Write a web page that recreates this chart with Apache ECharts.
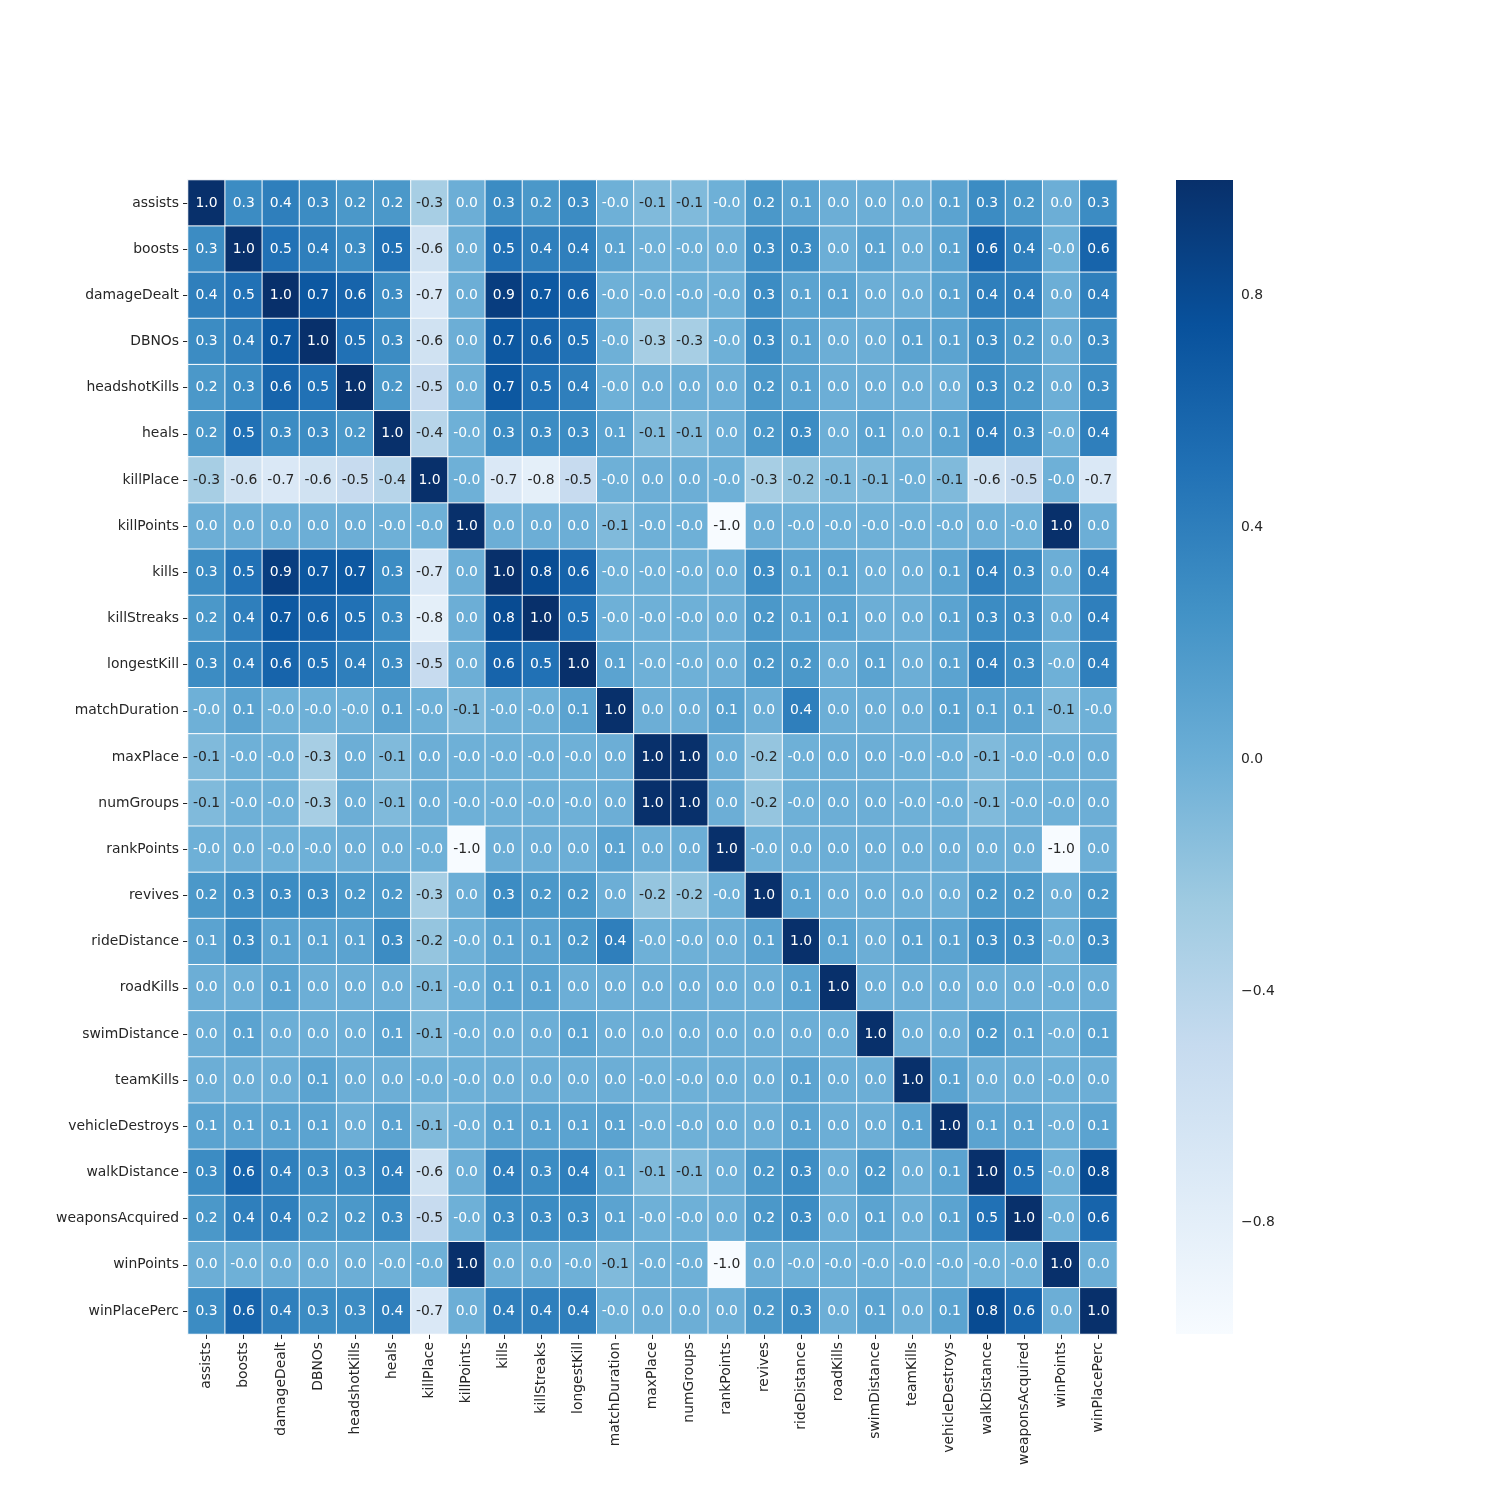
<!DOCTYPE html>
<html>
<head>
<meta charset="utf-8">
<script src="https://cdn.jsdelivr.net/npm/echarts@6/dist/echarts.min.js"></script>
<style>html,body{margin:0;padding:0;background:#fff}#c{width:1500px;height:1500px}</style>
</head>
<body>
<div id="c"></div>
<script>
// Category labels (same for rows and columns)
const labels = ["assists","boosts","damageDealt","DBNOs","headshotKills","heals","killPlace","killPoints","kills","killStreaks","longestKill","matchDuration","maxPlace","numGroups","rankPoints","revives","rideDistance","roadKills","swimDistance","teamKills","vehicleDestroys","walkDistance","weaponsAcquired","winPoints","winPlacePerc"];

// Correlation rows (-0.01 marks a displayed "-0.0")
const r_assists         = [1.0,0.3,0.4,0.3,0.2,0.2,-0.3,0.0,0.3,0.2,0.3,-0.01,-0.1,-0.1,-0.01,0.2,0.1,0.0,0.0,0.0,0.1,0.3,0.2,0.0,0.3];
const r_boosts          = [0.3,1.0,0.5,0.4,0.3,0.5,-0.6,0.0,0.5,0.4,0.4,0.1,-0.01,-0.01,0.0,0.3,0.3,0.0,0.1,0.0,0.1,0.6,0.4,-0.01,0.6];
const r_damageDealt     = [0.4,0.5,1.0,0.7,0.6,0.3,-0.7,0.0,0.9,0.7,0.6,-0.01,-0.01,-0.01,-0.01,0.3,0.1,0.1,0.0,0.0,0.1,0.4,0.4,0.0,0.4];
const r_DBNOs           = [0.3,0.4,0.7,1.0,0.5,0.3,-0.6,0.0,0.7,0.6,0.5,-0.01,-0.3,-0.3,-0.01,0.3,0.1,0.0,0.0,0.1,0.1,0.3,0.2,0.0,0.3];
const r_headshotKills   = [0.2,0.3,0.6,0.5,1.0,0.2,-0.5,0.0,0.7,0.5,0.4,-0.01,0.0,0.0,0.0,0.2,0.1,0.0,0.0,0.0,0.0,0.3,0.2,0.0,0.3];
const r_heals           = [0.2,0.5,0.3,0.3,0.2,1.0,-0.4,-0.01,0.3,0.3,0.3,0.1,-0.1,-0.1,0.0,0.2,0.3,0.0,0.1,0.0,0.1,0.4,0.3,-0.01,0.4];
const r_killPlace       = [-0.3,-0.6,-0.7,-0.6,-0.5,-0.4,1.0,-0.01,-0.7,-0.8,-0.5,-0.01,0.0,0.0,-0.01,-0.3,-0.2,-0.1,-0.1,-0.01,-0.1,-0.6,-0.5,-0.01,-0.7];
const r_killPoints      = [0.0,0.0,0.0,0.0,0.0,-0.01,-0.01,1.0,0.0,0.0,0.0,-0.1,-0.01,-0.01,-0.99,0.0,-0.01,-0.01,-0.01,-0.01,-0.01,0.0,-0.01,1.0,0.0];
const r_kills           = [0.3,0.5,0.9,0.7,0.7,0.3,-0.7,0.0,1.0,0.8,0.6,-0.01,-0.01,-0.01,0.0,0.3,0.1,0.1,0.0,0.0,0.1,0.4,0.3,0.0,0.4];
const r_killStreaks     = [0.2,0.4,0.7,0.6,0.5,0.3,-0.8,0.0,0.8,1.0,0.5,-0.01,-0.01,-0.01,0.0,0.2,0.1,0.1,0.0,0.0,0.1,0.3,0.3,0.0,0.4];
const r_longestKill     = [0.3,0.4,0.6,0.5,0.4,0.3,-0.5,0.0,0.6,0.5,1.0,0.1,-0.01,-0.01,0.0,0.2,0.2,0.0,0.1,0.0,0.1,0.4,0.3,-0.01,0.4];
const r_matchDuration   = [-0.01,0.1,-0.01,-0.01,-0.01,0.1,-0.01,-0.1,-0.01,-0.01,0.1,1.0,0.0,0.0,0.1,0.0,0.4,0.0,0.0,0.0,0.1,0.1,0.1,-0.1,-0.01];
const r_maxPlace        = [-0.1,-0.01,-0.01,-0.3,0.0,-0.1,0.0,-0.01,-0.01,-0.01,-0.01,0.0,1.0,1.0,0.0,-0.2,-0.01,0.0,0.0,-0.01,-0.01,-0.1,-0.01,-0.01,0.0];
const r_numGroups       = [-0.1,-0.01,-0.01,-0.3,0.0,-0.1,0.0,-0.01,-0.01,-0.01,-0.01,0.0,1.0,1.0,0.0,-0.2,-0.01,0.0,0.0,-0.01,-0.01,-0.1,-0.01,-0.01,0.0];
const r_rankPoints      = [-0.01,0.0,-0.01,-0.01,0.0,0.0,-0.01,-0.99,0.0,0.0,0.0,0.1,0.0,0.0,1.0,-0.01,0.0,0.0,0.0,0.0,0.0,0.0,0.0,-0.99,0.0];
const r_revives         = [0.2,0.3,0.3,0.3,0.2,0.2,-0.3,0.0,0.3,0.2,0.2,0.0,-0.2,-0.2,-0.01,1.0,0.1,0.0,0.0,0.0,0.0,0.2,0.2,0.0,0.2];
const r_rideDistance    = [0.1,0.3,0.1,0.1,0.1,0.3,-0.2,-0.01,0.1,0.1,0.2,0.4,-0.01,-0.01,0.0,0.1,1.0,0.1,0.0,0.1,0.1,0.3,0.3,-0.01,0.3];
const r_roadKills       = [0.0,0.0,0.1,0.0,0.0,0.0,-0.1,-0.01,0.1,0.1,0.0,0.0,0.0,0.0,0.0,0.0,0.1,1.0,0.0,0.0,0.0,0.0,0.0,-0.01,0.0];
const r_swimDistance    = [0.0,0.1,0.0,0.0,0.0,0.1,-0.1,-0.01,0.0,0.0,0.1,0.0,0.0,0.0,0.0,0.0,0.0,0.0,1.0,0.0,0.0,0.2,0.1,-0.01,0.1];
const r_teamKills       = [0.0,0.0,0.0,0.1,0.0,0.0,-0.01,-0.01,0.0,0.0,0.0,0.0,-0.01,-0.01,0.0,0.0,0.1,0.0,0.0,1.0,0.1,0.0,0.0,-0.01,0.0];
const r_vehicleDestroys = [0.1,0.1,0.1,0.1,0.0,0.1,-0.1,-0.01,0.1,0.1,0.1,0.1,-0.01,-0.01,0.0,0.0,0.1,0.0,0.0,0.1,1.0,0.1,0.1,-0.01,0.1];
const r_walkDistance    = [0.3,0.6,0.4,0.3,0.3,0.4,-0.6,0.0,0.4,0.3,0.4,0.1,-0.1,-0.1,0.0,0.2,0.3,0.0,0.2,0.0,0.1,1.0,0.5,-0.01,0.8];
const r_weaponsAcquired = [0.2,0.4,0.4,0.2,0.2,0.3,-0.5,-0.01,0.3,0.3,0.3,0.1,-0.01,-0.01,0.0,0.2,0.3,0.0,0.1,0.0,0.1,0.5,1.0,-0.01,0.6];
const r_winPoints       = [0.0,-0.01,0.0,0.0,0.0,-0.01,-0.01,1.0,0.0,0.0,-0.01,-0.1,-0.01,-0.01,-0.99,0.0,-0.01,-0.01,-0.01,-0.01,-0.01,-0.01,-0.01,1.0,0.0];
const r_winPlacePerc    = [0.3,0.6,0.4,0.3,0.3,0.4,-0.7,0.0,0.4,0.4,0.4,-0.01,0.0,0.0,0.0,0.2,0.3,0.0,0.1,0.0,0.1,0.8,0.6,0.0,1.0];

const matrix = [r_assists,r_boosts,r_damageDealt,r_DBNOs,r_headshotKills,r_heals,r_killPlace,r_killPoints,r_kills,r_killStreaks,r_longestKill,r_matchDuration,r_maxPlace,r_numGroups,r_rankPoints,r_revives,r_rideDistance,r_roadKills,r_swimDistance,r_teamKills,r_vehicleDestroys,r_walkDistance,r_weaponsAcquired,r_winPoints,r_winPlacePerc];

// Colour scale range (data min / max) and colorbar ticks
const vmin = -0.992, vmax = 1.0;
const cbarTicks = [-0.8,-0.4,0.0,0.4,0.8];

// matplotlib "Blues" colormap stops
const blues = ["#f7fbff","#deebf7","#c6dbef","#9ecae1","#6baed6","#4292c6","#2171b5","#08519c","#08306b"];

function hexToRgb(h){return [parseInt(h.substr(1,2),16),parseInt(h.substr(3,2),16),parseInt(h.substr(5,2),16)];}
function cmap(v){
  let t=(v-vmin)/(vmax-vmin); t=Math.max(0,Math.min(1,t));
  const p=t*(blues.length-1); const i=Math.min(Math.floor(p),blues.length-2); const f=p-i;
  const a=hexToRgb(blues[i]), b=hexToRgb(blues[i+1]);
  return [0,1,2].map(k=>a[k]+(b[k]-a[k])*f);
}
function lum(rgb){
  const c=rgb.map(x=>{x/=255;return x<=0.03928?x/12.92:Math.pow((x+0.055)/1.055,2.4);});
  return 0.2126*c[0]+0.7152*c[1]+0.0722*c[2];
}

const data=[];
matrix.forEach((row,yi)=>row.forEach((v,xi)=>{
  data.push({value:[xi,yi,v],label:{color:lum(cmap(v))>0.408?'#262626':'#ffffff'}});
}));

const FONT='DejaVu Sans';
const chart=echarts.init(document.getElementById('c'),null,{renderer:'canvas'});
chart.setOption({
  backgroundColor:'#ffffff',
  animation:false,
  grid:[
    {left:188,top:180,width:929,height:1154,outerBoundsMode:'none',containLabel:false},
    {left:1176,top:180,width:57,height:1154,outerBoundsMode:'none',containLabel:false}
  ],
  xAxis:[
    {type:'category',data:labels,gridIndex:0,position:'bottom',
     axisLine:{show:false},splitLine:{show:false},splitArea:{show:false},
     axisTick:{show:true,alignWithLabel:true,length:5,lineStyle:{color:'#262626',width:1}},
     axisLabel:{rotate:90,margin:8,fontFamily:FONT,fontSize:13.9,color:'#262626',interval:0}},
    {type:'value',gridIndex:1,show:false,min:0,max:1}
  ],
  yAxis:[
    {type:'category',data:labels,gridIndex:0,inverse:true,
     axisLine:{show:false},splitLine:{show:false},splitArea:{show:false},
     axisTick:{show:true,alignWithLabel:true,length:5,lineStyle:{color:'#262626',width:1}},
     axisLabel:{margin:9,fontFamily:FONT,fontSize:13.9,color:'#262626',interval:0}},
    {type:'value',gridIndex:1,min:vmin,max:vmax,position:'right',
     axisLine:{show:false},splitLine:{show:false},
     axisTick:{show:true,customValues:cbarTicks,length:5,lineStyle:{color:'#262626',width:1}},
     axisLabel:{customValues:cbarTicks,margin:8,fontFamily:FONT,fontSize:13.9,color:'#262626',
       formatter:v=>(Math.abs(v)<1e-9?'0.0':v.toFixed(1).replace('-','\u2212'))}}
  ],
  visualMap:{
    type:'continuous',show:false,seriesIndex:0,min:vmin,max:vmax,
    inRange:{color:blues}
  },
  series:[
    {type:'heatmap',xAxisIndex:0,yAxisIndex:0,data:data,
     itemStyle:{borderColor:'#ffffff',borderWidth:1},
     label:{show:true,fontFamily:FONT,fontSize:13.9,formatter:p=>p.value[2].toFixed(1)},
     emphasis:{disabled:true}},
    {type:'custom',xAxisIndex:1,yAxisIndex:1,silent:true,
     data:[[0,vmin,1,vmax]],
     renderItem:function(params,api){
       const p0=api.coord([api.value(0),api.value(1)]);
       const p1=api.coord([api.value(2),api.value(3)]);
       const stops=blues.map((c,i)=>({offset:1-i/(blues.length-1),color:c}));
       return {type:'rect',
         shape:{x:Math.min(p0[0],p1[0]),y:Math.min(p0[1],p1[1]),width:Math.abs(p1[0]-p0[0]),height:Math.abs(p1[1]-p0[1])},
         style:{fill:new echarts.graphic.LinearGradient(0,0,0,1,stops.slice().reverse())}};
     }}
  ]
});
</script>
</body>
</html>
